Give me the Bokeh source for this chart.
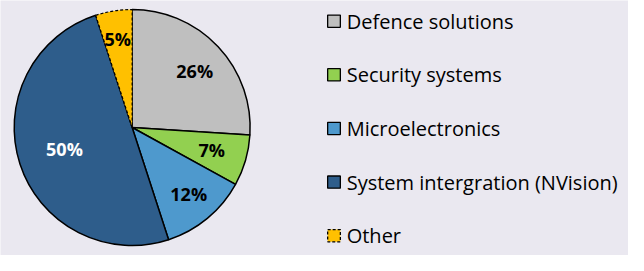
import math
from bokeh.plotting import figure
from bokeh.models import Range1d, ColumnDataSource
from bokeh.core.properties import value
from bokeh.embed import file_html
from bokeh.resources import INLINE

categories = ["Defence solutions", "Security systems", "Microelectronics",
              "System intergration (NVision)", "Other"]
shares = [26, 7, 12, 50, 5]
labels = ["26%", "7%", "12%", "50%", "5%"]
colors = ["#BFBFBF", "#92D050", "#4E99CD", "#2E5D8B", "#FFC000"]
label_colors = ["#000000", "#000000", "#000000", "#FFFFFF", "#000000"]
label_r = [88, 85, 91, 73, 95]

BG = "#EAE8F0"
W, H = 644, 271  # design space (reference pixels)

p = figure(width=628, height=255, output_backend="svg", toolbar_location=None,
           x_range=Range1d(0, W), y_range=Range1d(0, H),
           min_border=0, background_fill_color=BG, border_fill_color=BG)
p.axis.visible = False
p.grid.visible = False
p.outline_line_color = None

cx, cy, R = 135, H - 135, 121
total = sum(shares)
starts, ends, lx, ly = [], [], [], []
acc = 0
for s, lr in zip(shares, label_r):
    a0 = math.pi / 2 - 2 * math.pi * acc / total
    a1 = math.pi / 2 - 2 * math.pi * (acc + s) / total
    starts.append(a0)
    ends.append(a1)
    mid = (a0 + a1) / 2
    lx.append(cx + lr * math.cos(mid))
    ly.append(cy + lr * math.sin(mid))
    acc += s

solid = ColumnDataSource(dict(x=[cx] * 4, y=[cy] * 4, s=starts[:4], e=ends[:4], c=colors[:4]))
p.wedge(x="x", y="y", radius=R, start_angle="s", end_angle="e", direction="clock",
        fill_color="c", line_color="black", line_width=1.5, source=solid)
p.wedge(x=[cx], y=[cy], radius=R, start_angle=[starts[4]], end_angle=[ends[4]],
        direction="clock", fill_color=colors[4], line_color="black",
        line_width=1.2, line_dash="3 2")

p.text(x=lx, y=ly, text=labels, text_color=label_colors, text_align="center",
       text_baseline="middle", text_font=value("Open Sans"), text_font_style="bold",
       text_font_size="18px")

# legend
leg_x = [342] * len(categories)
leg_y = [H - (22 + 57 * i) for i in range(len(categories))]
p.rect(x=leg_x[:4], y=leg_y[:4], width=13, height=13, fill_color=colors[:4],
       line_color="black", line_width=1.3)
p.rect(x=leg_x[4:], y=leg_y[4:], width=13, height=13, fill_color=colors[4:],
       line_color="black", line_width=1.3, line_dash="3 2")
p.text(x=[x + 13 for x in leg_x], y=leg_y, text=categories, text_color="black",
       text_align="left", text_baseline="middle", text_font=value("Open Sans"),
       text_font_size="20px")

open("out.html", "w").write(file_html(p, INLINE))
